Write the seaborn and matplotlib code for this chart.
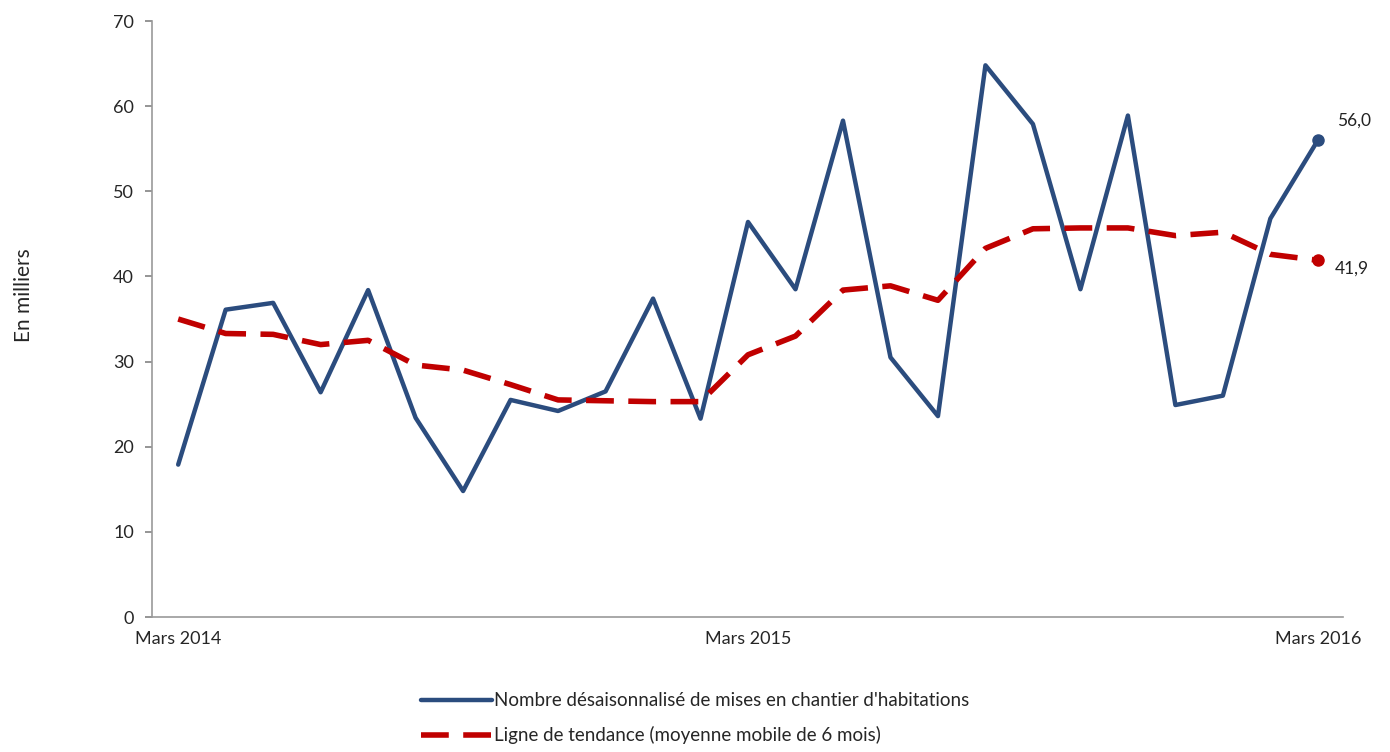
import matplotlib
matplotlib.use("Agg")
import matplotlib.pyplot as plt
import seaborn as sns
import pandas as pd
import numpy as np

tick_labels = ["Mars 2014", "Mars 2015", "Mars 2016"]
mises_en_chantier = [17.9, 36.1, 36.9, 26.4, 38.4, 23.4, 14.8, 25.5, 24.2, 26.5,
                     37.4, 23.3, 46.4, 38.5, 58.3, 30.5, 23.6, 64.8, 57.9, 38.5,
                     58.9, 24.9, 26.0, 46.8, 56.0]
tendance = [35.0, 33.3, 33.2, 32.0, 32.5, 29.6, 29.0, 27.3, 25.5, 25.4,
            25.3, 25.3, 30.8, 33.0, 38.4, 38.9, 37.2, 43.3, 45.6, 45.7,
            45.7, 44.8, 45.2, 42.6, 41.9]
label_serie = "Nombre désaisonnalisé de mises en chantier d'habitations"
label_tendance = "Ligne de tendance (moyenne mobile de 6 mois)"

sns.set_theme(style="white")
plt.rcParams['font.family'] = ['Lato', 'DejaVu Sans']

months = np.arange(len(mises_en_chantier))
df = pd.DataFrame({"mois": months, "serie": mises_en_chantier, "tendance": tendance})

fig = plt.figure(figsize=(13.9, 7.52), dpi=100)
ax = fig.add_axes([0.1094, 0.1795, 0.8568, 0.7925])

blue = "#2B4C7E"
red = "#C00000"

sns.lineplot(data=df, x="mois", y="serie", ax=ax, color=blue, linewidth=3.2,
             label=label_serie)
sns.lineplot(data=df, x="mois", y="tendance", ax=ax, color=red, linewidth=4,
             label=label_tendance, dashes=False)
ax.lines[1].set_dashes([5, 2.6])

ax.plot(months[-1], mises_en_chantier[-1], 'o', color=blue, markersize=8)
ax.plot(months[-1], tendance[-1], 'o', color=red, markersize=8)
ax.annotate(f"{mises_en_chantier[-1]:.1f}".replace('.', ','),
            (months[-1], mises_en_chantier[-1]), xytext=(14, 14),
            textcoords="offset points", fontsize=12.5, color="#222222",
            ha="left", va="center")
ax.annotate(f"{tendance[-1]:.1f}".replace('.', ','),
            (months[-1], tendance[-1]), xytext=(12, -6),
            textcoords="offset points", fontsize=12.5, color="#222222",
            ha="left", va="center")

ax.set_xlim(-0.55, 24.53)
ax.set_ylim(0, 70)
ax.set_xticks([0, 12, 24])
ax.set_xticklabels(tick_labels, fontsize=13)
ax.set_yticks(range(0, 71, 10))
ax.set_yticklabels([str(v) for v in range(0, 71, 10)], fontsize=13)
ax.tick_params(axis='y', length=5, color="#888888", direction='out', left=True, pad=8)
ax.tick_params(axis='x', length=0, pad=10)
ax.set_xlabel("")
ax.set_ylabel("En milliers", fontsize=15)
ax.yaxis.set_label_coords(-0.099, 0.54)

for s in ["top", "right"]:
    ax.spines[s].set_visible(False)
for s in ["left", "bottom"]:
    ax.spines[s].set_color("#999999")
    ax.spines[s].set_linewidth(1.2)

handles, labels = ax.get_legend_handles_labels()
ax.get_legend().remove()
fig.legend(handles, labels, loc="center", bbox_to_anchor=(0.5, 0.045),
           ncol=1, frameon=False, fontsize=13.5, handlelength=3.8,
           handletextpad=0.1, labelspacing=0.9)

fig.savefig("out.png", dpi=100)
